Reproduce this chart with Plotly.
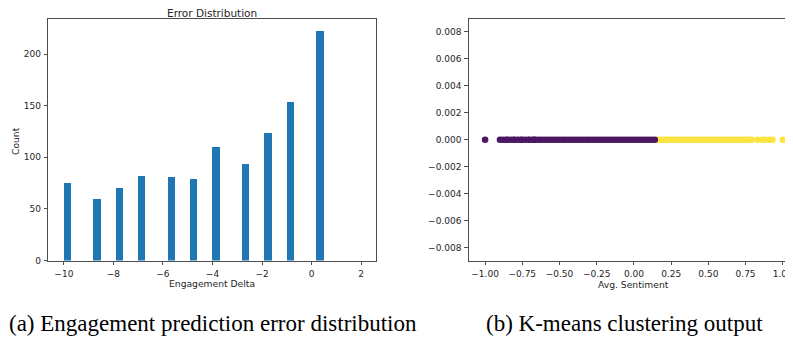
import plotly.graph_objects as go

# ---------------- data ----------------
# (a) histogram of engagement-prediction error (bin left edges, width 0.3)
bin_left = [-10.0, -8.8, -7.9, -7.0, -5.8, -4.9, -4.0, -2.8, -1.9, -1.0, 0.2]
bin_counts = [75, 60, 70, 82, 81, 79, 110, 94, 124, 154, 223]
bin_width = 0.3
hist_xticks = [-10, -8, -6, -4, -2, 0, 2]
hist_xticktext = ["\u221210", "\u22128", "\u22126", "\u22124", "\u22122", "0", "2"]
hist_yticks = [0, 50, 100, 150, 200]

# (b) k-means clustering on average sentiment (y = 0 for all points)
cluster0_sent = [-1.0, -0.9, -0.88, -0.86, -0.85, -0.83, -0.81, -0.8, -0.78, -0.76,
                 -0.75, -0.73, -0.71, -0.7, -0.68, -0.67, -0.66, -0.64, -0.62, -0.6,
                 -0.58, -0.56, -0.54, -0.52, -0.5, -0.48, -0.46, -0.44, -0.42, -0.4,
                 -0.38, -0.36, -0.34, -0.32, -0.3, -0.28, -0.26, -0.24, -0.22, -0.2,
                 -0.18, -0.16, -0.14, -0.12, -0.1, -0.08, -0.06, -0.04, -0.02, 0.0,
                 0.02, 0.04, 0.06, 0.08, 0.1, 0.12, 0.14]
cluster1_sent = [0.16, 0.18, 0.2, 0.22, 0.24, 0.26, 0.28, 0.3, 0.32, 0.34,
                 0.36, 0.38, 0.4, 0.42, 0.44, 0.46, 0.48, 0.5, 0.52, 0.54,
                 0.56, 0.58, 0.6, 0.62, 0.64, 0.66, 0.68, 0.7, 0.72, 0.74,
                 0.75, 0.77, 0.79, 0.83, 0.86, 0.88, 0.91, 0.93, 1.0]
sc_xticks = [-1.0, -0.75, -0.5, -0.25, 0.0, 0.25, 0.5, 0.75, 1.0]
sc_xticktext = ["\u22121.00", "\u22120.75", "\u22120.50", "\u22120.25", "0.00",
                "0.25", "0.50", "0.75", "1.00"]
sc_yticks = [0.008, 0.006, 0.004, 0.002, 0.0, -0.002, -0.004, -0.006, -0.008]
sc_yticktext = ["0.008", "0.006", "0.004", "0.002", "0.000",
                "\u22120.002", "\u22120.004", "\u22120.006", "\u22120.008"]

# ---------------- figure ----------------
W, H = 793, 341
OFF = 8  # page body margin offsets the plot inside the window
TXT = "#262626"
LINE = "#4d4d4d"
FONT = "DejaVu Sans"

fig = go.Figure()

fig.add_trace(go.Bar(
    x=[l + bin_width / 2 for l in bin_left], y=bin_counts, width=bin_width,
    marker=dict(color="#1f77b4", line=dict(width=0)),
    xaxis="x", yaxis="y", showlegend=False,
))

fig.add_trace(go.Scatter(
    x=cluster1_sent, y=[0] * len(cluster1_sent), mode="markers",
    marker=dict(color="#fbe43f", size=6.6, line=dict(width=0)),
    xaxis="x2", yaxis="y2", showlegend=False,
))
fig.add_trace(go.Scatter(
    x=cluster0_sent, y=[0] * len(cluster0_sent), mode="markers",
    marker=dict(color="#4a1862", size=6.6, line=dict(width=0)),
    xaxis="x2", yaxis="y2", showlegend=False,
))

def px(x):
    return (x - OFF) / W

def py(y):
    return 1 - (y - OFF) / H

ydom = [py(264.3), py(19.0)]
axis_common = dict(
    showgrid=False, zeroline=False, showline=True, linecolor=LINE, linewidth=1,
    ticks="outside", ticklen=3.5, tickwidth=1, tickcolor=LINE,
    tickfont=dict(family=FONT, size=9, color=TXT), ticklabelstandoff=1,
)

fig.update_layout(
    width=W, height=H,
    margin=dict(l=0, r=0, t=0, b=0),
    paper_bgcolor="white", plot_bgcolor="white",
    bargap=0,
    xaxis=dict(domain=[px(48.3), px(376.7)], range=[-10.63, 2.61],
               tickmode="array", tickvals=hist_xticks, ticktext=hist_xticktext,
               mirror=True, anchor="y", **axis_common),
    yaxis=dict(domain=ydom, range=[0, 234.15],
               tickmode="array", tickvals=hist_yticks,
               mirror=True, anchor="x", **axis_common),
    xaxis2=dict(domain=[px(469.3), px(793)], range=[-1.11, 1.062],
                tickmode="array", tickvals=sc_xticks, ticktext=sc_xticktext,
                mirror=True, anchor="y2", ticklabeloverflow="allow", **axis_common),
    yaxis2=dict(domain=ydom, range=[-0.00895, 0.00895],
                tickmode="array", tickvals=sc_yticks, ticktext=sc_yticktext,
                mirror=False, anchor="x2", **axis_common),
)

def ann(text, x, y, size, family=FONT, color=TXT, angle=0, xanchor="center"):
    fig.add_annotation(text=text, x=px(x), y=py(y), xref="paper", yref="paper",
                       showarrow=False, xanchor=xanchor, yanchor="middle",
                       textangle=angle, font=dict(family=family, size=size, color=color))

ann("Error Distribution", 212.5, 13.5, 10.5)
ann("Engagement Delta", 212.5, 287.8, 9.2)
ann("Count", 15, 143, 9.2, angle=-90)
ann("Avg. Sentiment", 634.3, 288.5, 9.2)
ann("(a) Engagement prediction error distribution", 213, 328.5, 23,
    family="Liberation Serif", color="black")
ann("(b) K-means clustering output", 625, 328.5, 23,
    family="Liberation Serif", color="black")

fig.write_html("out.html")
